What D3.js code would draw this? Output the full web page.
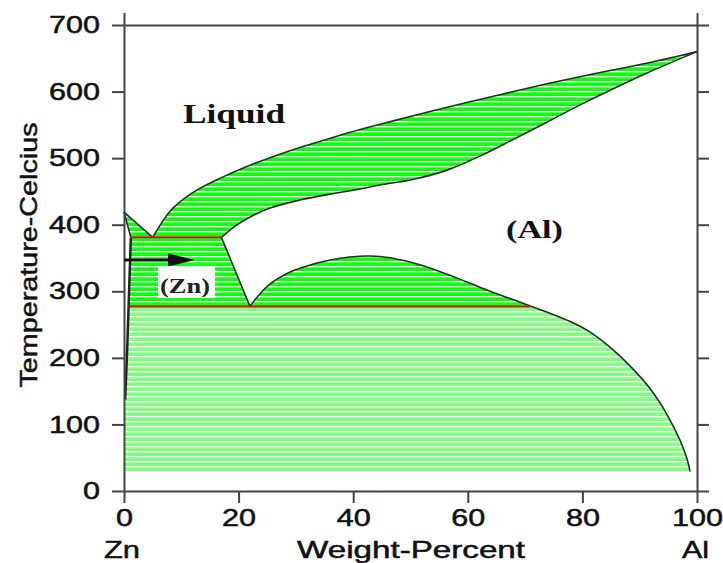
<!DOCTYPE html>
<html>
<head>
<meta charset="utf-8">
<script src="https://cdn.jsdelivr.net/npm/d3@7"></script>
<style>
  html, body { margin: 0; padding: 0; background: #fff; }
  svg { display: block; }
</style>
</head>
<body>
<svg id="chart" width="723" height="563"></svg>
<script>
// Al-Zn phase diagram: composition in weight-percent Al, temperature in Celsius
const wtTicks = [0, 20, 40, 60, 80, 100];
const tempTicks = [0, 100, 200, 300, 400, 500, 600, 700];

const eutecticT = 381;
const eutectoidT = 277;
const baseT = 30;

// liquidus on the Zn side, from the Zn melting point to the eutectic
const liquidusZn = [[0, 419], [5, 381]];
// liquidus on the Al side, from the eutectic to the Al melting point
const liquidusAl = [[5, 381], [8, 420], [10.6, 440], [13.3, 455], [16.8, 470], [20.2, 483],
  [23.7, 495], [27.2, 506], [30.7, 516], [36, 530], [41.2, 543], [47, 556], [53.4, 570],
  [60, 584], [67, 598], [74, 612], [81, 625], [88, 637], [94, 648], [100, 660]];
// solidus of (Al)
const solidusAl = [[17, 381], [19.4, 398], [22, 411.6], [25.5, 425], [30.7, 437], [36, 446],
  [41.2, 453.7], [44.7, 459.7], [50.4, 468], [56.4, 482], [62.1, 503], [67.9, 528],
  [73.8, 554], [79.6, 580], [85.3, 604], [91.3, 628], [100, 660]];
// solidus and solvus of (Zn)
const solidusZn = [[0, 419], [1.2, 381]];
const solvusZn = [[1.2, 381], [1.0, 330], [0.8, 277], [0.5, 200], [0.2, 137]];
// (Al) solvus between the eutectic and the eutectoid
const solvusAlHigh = [[17, 381], [22, 277]];
// miscibility gap of (Al)
const miscibilityGap = [[22, 277.9], [23.4, 292.9], [25.5, 311], [29, 329], [32.5, 339.5], [36, 347],
  [39.4, 351.5], [42.9, 353], [46.4, 350.5], [49.9, 344], [53.4, 335], [56.9, 324], [60.4, 312],
  [63.9, 300], [67.4, 289], [70.9, 277.9]];
// (Al) solvus below the eutectoid
const solvusAl = [[70.9, 277.9], [74.3, 267], [77.8, 255], [81.3, 239], [84.8, 216],
  [88.3, 188], [91.8, 154], [94.7, 116], [97, 77], [98.2, 50], [98.8, 29]];

const arrowT = 347, arrowFrom = 0, arrowTo = 12.4;

const svg = d3.select("#chart");
const x = d3.scaleLinear().domain([0, 100]).range([124, 697]);
const y = d3.scaleLinear().domain([0, 700]).range([491, 25]);

// striped fills
const defs = svg.append("defs");
function stripes(id, bg) {
  const p = defs.append("pattern").attr("id", id).attr("patternUnits", "userSpaceOnUse")
    .attr("x", 0).attr("y", 1).attr("width", 10).attr("height", 5);
  p.append("rect").attr("width", 10).attr("height", 5).attr("fill", bg);
  p.append("rect").attr("y", 0).attr("width", 10).attr("height", 1.3).attr("fill", "#ffffff");
}
stripes("hatchBright", "#10ff10");
stripes("hatchLight", "#84ff84");

const curve = d3.line().x(d => x(d[0])).y(d => y(d[1])).curve(d3.curveCatmullRom.alpha(0.5));
const straight = d3.line().x(d => x(d[0])).y(d => y(d[1]));
const rev = a => a.slice().reverse();

// join several boundary pieces into one closed outline
function outline(pieces) {
  return pieces.map((p, i) => {
    const s = (p.straight ? straight : curve)(p.pts);
    return i === 0 ? s : s.replace(/^M/, "L");
  }).join("") + "Z";
}
const C = pts => ({ pts });
const S = pts => ({ pts, straight: true });

const regions = svg.append("g");
// L + (Zn)
regions.append("path").attr("d", outline([S(liquidusZn), S([[5, eutecticT], [1.2, eutecticT]]), S(rev(solidusZn))]))
  .attr("fill", "url(#hatchBright)");
// L + (Al)
regions.append("path").attr("d", outline([C(liquidusAl), C(rev(solidusAl)), S([[17, eutecticT], [5, eutecticT]])]))
  .attr("fill", "url(#hatchBright)");
// (Zn) + (Al) between eutectic and eutectoid
regions.append("path").attr("d", outline([S([[1.2, eutecticT], [17, eutecticT]]), S(solvusAlHigh),
  S([[22, eutectoidT], [0.8, eutectoidT]]), C(rev(solvusZn.slice(0, 3)))]))
  .attr("fill", "url(#hatchBright)");
// miscibility gap
regions.append("path").attr("d", outline([C(miscibilityGap), S([[70.9, eutectoidT], [22, eutectoidT]])]))
  .attr("fill", "url(#hatchBright)");
// (Zn) + (Al) below the eutectoid
regions.append("path").attr("d", outline([S([[0.8, eutectoidT], [70.9, eutectoidT]]), C(solvusAl),
  S([[98.8, baseT], [0.2, baseT]]), S([[0.2, baseT], [0.2, 137]]), C(rev(solvusZn.slice(2)))]))
  .attr("fill", "url(#hatchLight)");

// phase boundaries
const lines = svg.append("g").attr("fill", "none").attr("stroke-linejoin", "round");
[liquidusAl, solidusAl, miscibilityGap, solvusAl].forEach(c =>
  lines.append("path").attr("d", curve(c)).attr("stroke", "#2a2a2a").attr("stroke-width", 1.6));
[liquidusZn, solidusZn, solvusAlHigh].forEach(c =>
  lines.append("path").attr("d", straight(c)).attr("stroke", "#2a2a2a").attr("stroke-width", 1.6));
lines.append("path").attr("d", curve(solvusZn)).attr("stroke", "#222").attr("stroke-width", 2.5);
// invariant lines
lines.append("path").attr("d", straight([[1.2, eutecticT], [17, eutecticT]])).attr("stroke", "#c8140a").attr("stroke-width", 2);
lines.append("path").attr("d", straight([[0.8, eutectoidT], [70.9, eutectoidT]])).attr("stroke", "#c8140a").attr("stroke-width", 2);

// axes on all four sides of the frame
function styleAxis(g) {
  g.selectAll("path, line").attr("stroke", "#444").attr("stroke-width", 2);
  g.selectAll("text").attr("font-family", "Liberation Sans, Arial, sans-serif")
    .attr("font-size", 24).attr("fill", "#111")
    .attr("stroke", "#111").attr("stroke-width", 0.5)
    .attr("lengthAdjust", "spacingAndGlyphs")
    .attr("textLength", function () { return this.textContent.length * 17; });
}
svg.append("g").attr("transform", `translate(0,${y(0)})`)
  .call(d3.axisBottom(x).tickValues(wtTicks).tickSize(12).tickSizeOuter(0).tickPadding(6).tickFormat(d3.format("d")))
  .call(styleAxis);
svg.append("g").attr("transform", `translate(${x(0)},0)`)
  .call(d3.axisLeft(y).tickValues(tempTicks).tickSize(12).tickSizeOuter(0).tickPadding(12).tickFormat(d3.format("d")))
  .call(styleAxis);
svg.append("g").attr("transform", `translate(0,${y(700)})`)
  .call(d3.axisTop(x).tickValues([0, 100]).tickSize(12).tickSizeOuter(0).tickFormat(""))
  .call(styleAxis);
svg.append("g").attr("transform", `translate(${x(100)},0)`)
  .call(d3.axisRight(y).tickValues(tempTicks).tickSize(12).tickSizeOuter(0).tickFormat(""))
  .call(styleAxis);

// axis titles
const sans = "Liberation Sans, Arial, sans-serif";
function label(txt, px, py, len, size, anchor) {
  return svg.append("text").attr("x", px).attr("y", py).text(txt)
    .attr("font-family", sans).attr("font-size", size).attr("fill", "#111")
    .attr("stroke", "#111").attr("stroke-width", 0.5)
    .attr("text-anchor", anchor || "start")
    .attr("textLength", len).attr("lengthAdjust", "spacingAndGlyphs");
}
label("Zn", 104, 558, 36, 24);
label("Weight-Percent", 297, 558, 228, 24);
label("Al", 682, 558, 27, 24);
label("Temperature-Celcius", 0, 0, 265, 24, "middle")
  .attr("transform", "translate(37,255) rotate(-90)");

// phase labels
const serif = "Liberation Serif, Times New Roman, serif";
svg.append("text").attr("x", 183).attr("y", 123).text("Liquid")
  .attr("font-family", serif).attr("font-weight", "bold").attr("font-size", 27).attr("fill", "#111")
  .attr("textLength", 102).attr("lengthAdjust", "spacingAndGlyphs");
svg.append("text").attr("x", 506).attr("y", 238).text("(Al)")
  .attr("font-family", serif).attr("font-weight", "bold").attr("font-size", 25).attr("fill", "#111")
  .attr("textLength", 57).attr("lengthAdjust", "spacingAndGlyphs");
svg.append("rect").attr("x", 158).attr("y", 267).attr("width", 57).attr("height", 31).attr("fill", "#fff");
svg.append("text").attr("x", 160).attr("y", 293).text("(Zn)")
  .attr("font-family", serif).attr("font-weight", "bold").attr("font-size", 22).attr("fill", "#222")
  .attr("textLength", 50).attr("lengthAdjust", "spacingAndGlyphs");

// arrow pointing into the (Zn) + (Al) field
const ay = y(arrowT), ax0 = x(arrowFrom), ax1 = x(arrowTo);
svg.append("line").attr("x1", ax0).attr("x2", ax1 - 20).attr("y1", ay).attr("y2", ay)
  .attr("stroke", "#111").attr("stroke-width", 3);
svg.append("path").attr("d", `M${ax1},${ay}L${ax1 - 27},${ay - 6.5}L${ax1 - 27},${ay + 6.5}Z`).attr("fill", "#111");
</script>
</body>
</html>
